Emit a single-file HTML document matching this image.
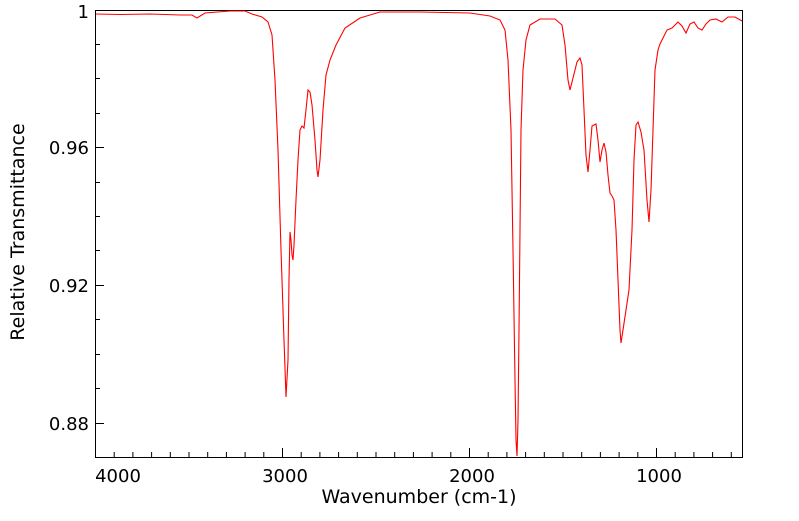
<!DOCTYPE html>
<html><head><style>body{margin:0;background:#fff}</style></head><body>
<svg width="799" height="516" xmlns="http://www.w3.org/2000/svg" font-family="DejaVu Sans, sans-serif">
<rect width="799" height="516" fill="#fff"/>
<g stroke="#000" stroke-width="1">
<rect x="95.5" y="10.5" width="647" height="447" fill="none"/>
<path d="M95.5 457v-9M282.5 457v-9M469.5 457v-9M656.5 457v-9"/>
<path d="M114.2 457v-5M132.9 457v-5M151.6 457v-5M170.3 457v-5M189 457v-5M207.7 457v-5M226.4 457v-5M245.1 457v-5M263.8 457v-5M301.2 457v-5M319.9 457v-5M338.6 457v-5M357.3 457v-5M376 457v-5M394.7 457v-5M413.4 457v-5M432.1 457v-5M450.8 457v-5M488.2 457v-5M506.9 457v-5M525.6 457v-5M544.3 457v-5M563 457v-5M581.7 457v-5M600.4 457v-5M619.1 457v-5M637.8 457v-5M675.2 457v-5M693.9 457v-5M712.6 457v-5M731.3 457v-5"/>
<path d="M95 10.5h9M95 147.5h9M95 285.5h9M95 423.5h9"/>
<path d="M95 44.5h5M95 78.5h5M95 113.5h5M95 182.5h5M95 216.5h5M95 250.5h5M95 319.5h5M95 354.5h5M95 388.5h5"/>
</g>
<g font-size="18" fill="#000">
<text x="89" y="18" text-anchor="end">1</text>
<text x="89" y="154" text-anchor="end">0.96</text>
<text x="89" y="292" text-anchor="end">0.92</text>
<text x="89" y="430" text-anchor="end">0.88</text>
<text x="118" y="482" text-anchor="middle">4000</text>
<text x="285" y="482" text-anchor="middle">3000</text>
<text x="472" y="482" text-anchor="middle">2000</text>
<text x="659" y="482" text-anchor="middle">1000</text>
<text x="419" y="503" text-anchor="middle" font-size="19">Wavenumber (cm-1)</text>
<text transform="translate(24,232) rotate(-90)" text-anchor="middle" font-size="19">Relative Transmittance</text>
</g>
<polyline fill="none" stroke="#f00" stroke-width="1.1" points="96,14 120,14.5 150,14 180,15 192,15 197,18 205,13 230,11 245,11 252,14 262,17 268,22 272,35 275,80 278,150 281,250 284,340 286,397 288,360 289,280 290,232 291,240 292,255 293,260 294,245 296,200 298,160 300,130 302,126 304,128 306,110 308,90 310,92 312,105 315,140 317,170 318,177 320,160 323,110 326,75 330,60 336,45 345,28 360,18 380,12 420,12 470,13 490,16 500,20 505,30 508,60 511,130 513,250 515,380 516,440 517,456 518,420 519,330 520,230 521,130 523,70 526,40 530,25 540,19 555,19 562,25 565,45 568,80 570,90 573,78 577,62 580,58 582,65 584,110 586,155 588,172 590,150 592,126 596,124 598,140 600,162 602,150 604,143 606,152 608,175 610,193 612,196 614,200 616,230 618,280 620,330 621,343 623,330 626,310 629,290 632,230 634,160 636,125 638,122 641,132 644,150 647,200 649,222 651,190 653,130 655,70 658,50 660,44 663,38 667,30 672,28 678,22 682,26 686,33 690,24 694,22 698,28 702,30 706,24 710,20 716,19 722,22 728,17 735,17 742,21"/>
</svg>
</body></html>
